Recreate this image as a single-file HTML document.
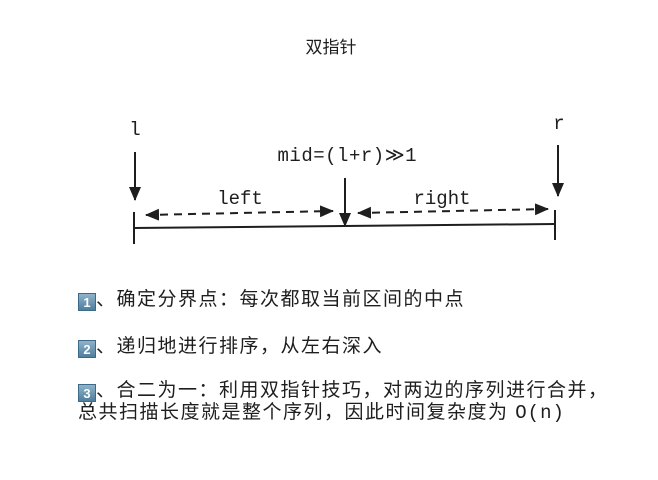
<!DOCTYPE html>
<html><head><meta charset="utf-8"><style>
body{margin:0;background:#fff;width:658px;height:480px;overflow:hidden;position:relative;font-family:"Liberation Sans","Noto Sans CJK SC",sans-serif;color:#1e1e1e}
.t{position:absolute;font-size:19px;line-height:22px;white-space:nowrap;letter-spacing:1.5px}
.k{display:inline-block;width:18px;height:18px;background:linear-gradient(#8fb3c9,#4f7e9e);color:#fff;font-size:13px;line-height:18px;text-align:center;vertical-align:-2px;border:1px solid #3d6a88;box-sizing:border-box;font-weight:bold;letter-spacing:0}
</style></head><body>
<svg width="658" height="480" style="position:absolute;left:0;top:0">
<defs>
<marker id="b" markerWidth="14" markerHeight="12" refX="13" refY="6" orient="auto-start-reverse" markerUnits="userSpaceOnUse"><path d="M0,0 L14,6 L0,12 z" fill="#1e1e1e"/></marker></defs>
<text x="331" y="53" font-size="17" text-anchor="middle" font-family="Noto Sans CJK SC,sans-serif" fill="#1e1e1e">双指针</text>
<g font-family="Liberation Mono,monospace" font-size="19" fill="#1e1e1e">
<text x="135" y="135" text-anchor="middle">l</text>
<text x="559" y="129" text-anchor="middle">r</text>
<text x="347" y="161" text-anchor="middle" textLength="139">mid=(l+r)≫1</text>
<text x="240" y="204" text-anchor="middle">left</text>
<text x="442" y="204" text-anchor="middle">right</text>
</g>
<g stroke="#1e1e1e" stroke-width="2" fill="none">
<line x1="135" y1="152" x2="135" y2="200" marker-end="url(#b)"/>
<line x1="558" y1="145" x2="558" y2="196" marker-end="url(#b)"/>
<line x1="345" y1="178" x2="345" y2="226" marker-end="url(#b)"/>
<line x1="133" y1="228" x2="555" y2="224"/>
<line x1="134" y1="212" x2="134" y2="244"/>
<line x1="555" y1="210" x2="555" y2="240"/>
<line x1="146" y1="215" x2="333" y2="211" stroke-dasharray="8 6" marker-start="url(#b)" marker-end="url(#b)"/>
<line x1="358" y1="213" x2="548" y2="209" stroke-dasharray="8 6" marker-start="url(#b)" marker-end="url(#b)"/>
</g>
</svg>
<div class="t" style="left:78px;top:289px"><span class="k">1</span>、确定分界点：每次都取当前区间的中点</div>
<div class="t" style="left:78px;top:336px"><span class="k">2</span>、递归地进行排序，从左右深入</div>
<div class="t" style="left:78px;top:380px"><span class="k">3</span>、合二为一：利用双指针技巧，对两边的序列进行合并，</div>
<div class="t" style="left:78px;top:402px">总共扫描长度就是整个序列，因此时间复杂度为 <span style="font-family:'Liberation Mono',monospace;letter-spacing:1px">O(n)</span></div>
</body></html>
